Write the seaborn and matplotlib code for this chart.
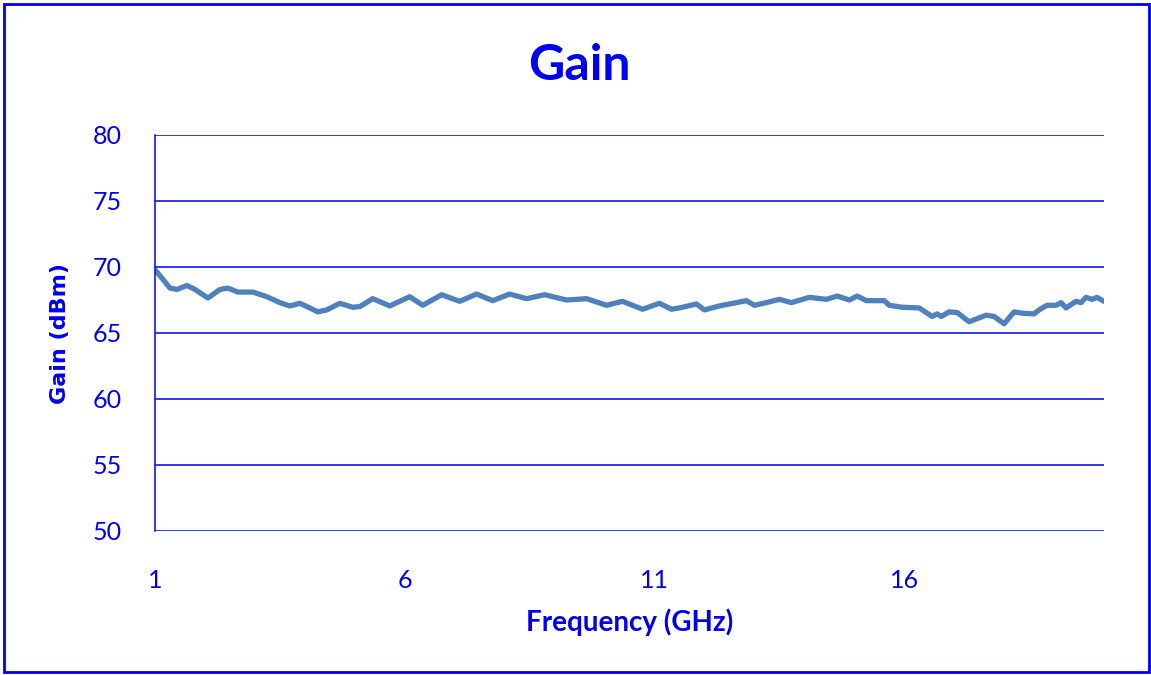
import matplotlib
matplotlib.use("Agg")
import matplotlib.pyplot as plt
import seaborn as sns
import pandas as pd
from matplotlib.patches import Rectangle

freq_ghz = [1.0, 1.3, 1.44, 1.64, 1.8, 2.06, 2.3, 2.46, 2.66, 2.96, 3.24, 3.5, 3.7, 3.9,
            4.1, 4.26, 4.44, 4.7, 4.96, 5.1, 5.36, 5.7, 5.9, 6.1, 6.36, 6.74, 7.1, 7.44,
            7.76, 8.1, 8.44, 8.8, 9.24, 9.64, 10.04, 10.36, 10.76, 11.1, 11.34, 11.5,
            11.84, 12.0, 12.3, 12.5, 12.64, 12.84, 13.0, 13.24, 13.5, 13.74, 14.1, 14.44,
            14.66, 14.9, 15.06, 15.24, 15.6, 15.7, 15.96, 16.3, 16.36, 16.56, 16.66,
            16.74, 16.9, 17.06, 17.3, 17.64, 17.8, 18.0, 18.2, 18.36, 18.6, 18.7, 18.86,
            19.04, 19.14, 19.24, 19.44, 19.54, 19.64, 19.76, 19.86, 20.0]
gain_dbm = [69.8, 68.4, 68.3, 68.6, 68.3, 67.65, 68.3, 68.4, 68.1, 68.1, 67.75, 67.3,
            67.05, 67.25, 66.9, 66.6, 66.75, 67.25, 66.95, 67.0, 67.6, 67.05, 67.4,
            67.75, 67.1, 67.9, 67.4, 67.95, 67.45, 67.95, 67.6, 67.9, 67.5, 67.6, 67.1,
            67.4, 66.8, 67.25, 66.8, 66.9, 67.2, 66.75, 67.05, 67.2, 67.3, 67.45, 67.1,
            67.3, 67.55, 67.3, 67.7, 67.55, 67.8, 67.5, 67.8, 67.45, 67.45, 67.1, 66.95,
            66.9, 66.75, 66.25, 66.45, 66.25, 66.6, 66.55, 65.85, 66.35, 66.25, 65.7,
            66.6, 66.5, 66.45, 66.75, 67.1, 67.1, 67.3, 66.9, 67.4, 67.3, 67.7, 67.55,
            67.7, 67.4]
x_ticks = [1, 6, 11, 16]
y_ticks = [50, 55, 60, 65, 70, 75, 80]

sns.set_theme(style="white")
plt.rcParams['font.family'] = ['Lato', 'DejaVu Sans']

BLUE = "#0000F0"
LINE = "#4F81BD"

df = pd.DataFrame({"Frequency": freq_ghz, "Gain": gain_dbm})

fig = plt.figure(figsize=(11.51, 6.75), dpi=100)
ax = fig.add_axes([155/1151, 1-531/675, (1104-155)/1151, (531-135)/675])

sns.lineplot(data=df, x="Frequency", y="Gain", ax=ax, color=LINE, linewidth=3.8,
             sort=False, solid_joinstyle="round", solid_capstyle="round")

ax.set_xlim(1, 20)
ax.set_ylim(50, 80)
ax.set_xticks(x_ticks)
ax.set_yticks(y_ticks)
ax.set_xticklabels([str(t) for t in x_ticks])
ax.set_yticklabels([str(t) for t in y_ticks])
ax.tick_params(axis='both', length=0, labelsize=18, labelcolor=BLUE)
ax.tick_params(axis='x', pad=27)
ax.tick_params(axis='y', pad=24)

for y in y_ticks:
    ax.axhline(y, color=BLUE, linewidth=1.1, zorder=0)

for s in ["top", "right", "bottom"]:
    ax.spines[s].set_visible(False)
ax.spines["left"].set_color(BLUE)
ax.spines["left"].set_linewidth(1.1)

ax.set_xlabel("Frequency (GHz)", fontsize=20, fontweight="bold", color=BLUE, labelpad=12)
ax.set_ylabel("Gain (dBm)", fontsize=16, fontweight="bold", color=BLUE, labelpad=16,
              family=["DejaVu Sans"])

fig.text(0.503, 1-66/675, "Gain", ha="center", va="center", fontsize=36,
         fontweight="bold", color=BLUE)

fig.patches.append(Rectangle((4/1151, 3/675), 1145/1151, 668/675, transform=fig.transFigure,
                             fill=False, edgecolor=BLUE, linewidth=2))

fig.savefig("out.png", dpi=100)
